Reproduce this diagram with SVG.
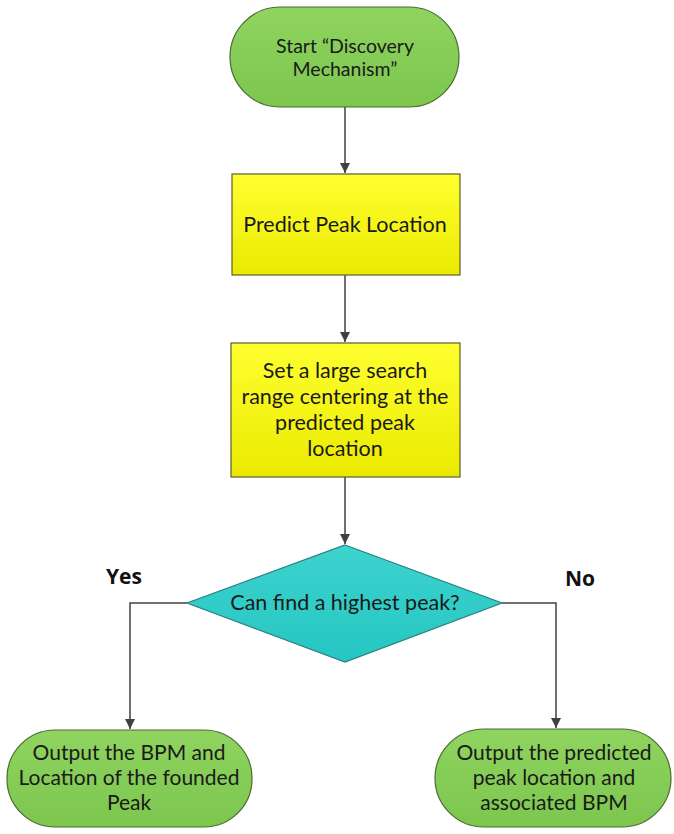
<svg xmlns="http://www.w3.org/2000/svg" width="674" height="834" viewBox="0 0 674 834">
<defs>
<linearGradient id="g" x1="0" y1="0" x2="0" y2="1"><stop offset="0" stop-color="#8fd460"/><stop offset="1" stop-color="#7cc64e"/></linearGradient>
<linearGradient id="y" x1="0" y1="0" x2="0" y2="1"><stop offset="0" stop-color="#ffff30"/><stop offset="1" stop-color="#eaea00"/></linearGradient>
<linearGradient id="c" x1="0" y1="0" x2="0" y2="1"><stop offset="0" stop-color="#3dd3cf"/><stop offset="1" stop-color="#26c6c2"/></linearGradient>
<marker id="ah" viewBox="0 0 10 10" refX="10" refY="5" markerWidth="10" markerHeight="10" markerUnits="userSpaceOnUse" orient="auto"><path d="M0,0 L10,5 L0,10 z" fill="#404040"/></marker>
</defs>
<style>
.t{font-family:Lato,"Open Sans",sans-serif;font-size:21.5px;fill:#1a1a1a;text-anchor:middle}
.s{font-size:19.5px}
.o{font-size:21px}
.b{font-family:"Open Sans",sans-serif;font-size:21px;font-weight:bold;fill:#111}
.pill{fill:url(#g);stroke:#4a6b32;stroke-width:1.2}
.box{fill:url(#y);stroke:#5c5c30;stroke-width:1.2}
.dia{fill:url(#c);stroke:#2a7f7f;stroke-width:1.2}
.ln{fill:none;stroke:#404040;stroke-width:1.5;marker-end:url(#ah)}
</style>
<rect width="674" height="834" fill="#fff"/>
<g id="connectors">
<path class="ln" d="M345,107 V173"/>
<path class="ln" d="M345,275 V342"/>
<path class="ln" d="M345,477 V544"/>
<path class="ln" d="M187,603 H130 V729"/>
<path class="ln" d="M502,603 H556 V728"/>
</g>
<g id="start">
<rect class="pill" x="230" y="7" width="229" height="100" rx="50" ry="50"/>
<text class="t s" x="345" y="53">Start “Discovery</text>
<text class="t s" x="345" y="76">Mechanism”</text>
</g>
<g id="predict">
<rect class="box" x="232" y="174" width="228" height="101"/>
<text class="t" x="345" y="232">Predict Peak Location</text>
</g>
<g id="setrange">
<rect class="box" x="231" y="343" width="229" height="134"/>
<text class="t" x="345" y="378">Set a large search</text>
<text class="t" x="345" y="404">range centering at the</text>
<text class="t" x="345" y="430">predicted peak</text>
<text class="t" x="345" y="456">location</text>
</g>
<g id="decision">
<polygon class="dia" points="345,545 502,603 345,662 187,603"/>
<text class="t" x="345" y="610">Can find a highest peak?</text>
</g>
<g id="yes-label"><text class="b" x="106" y="584">Yes</text></g>
<g id="no-label"><text class="b" x="565" y="586">No</text></g>
<g id="out-found">
<rect class="pill" x="7" y="730" width="245" height="97" rx="48" ry="48"/>
<text class="t o" x="129" y="760">Output the BPM and</text>
<text class="t o" x="129" y="785">Location of the founded</text>
<text class="t o" x="129" y="810">Peak</text>
</g>
<g id="out-predicted">
<rect class="pill" x="435" y="729" width="236" height="98" rx="49" ry="49"/>
<text class="t o" x="554" y="760">Output the predicted</text>
<text class="t o" x="554" y="785">peak location and</text>
<text class="t o" x="554" y="810">associated BPM</text>
</g>
</svg>
